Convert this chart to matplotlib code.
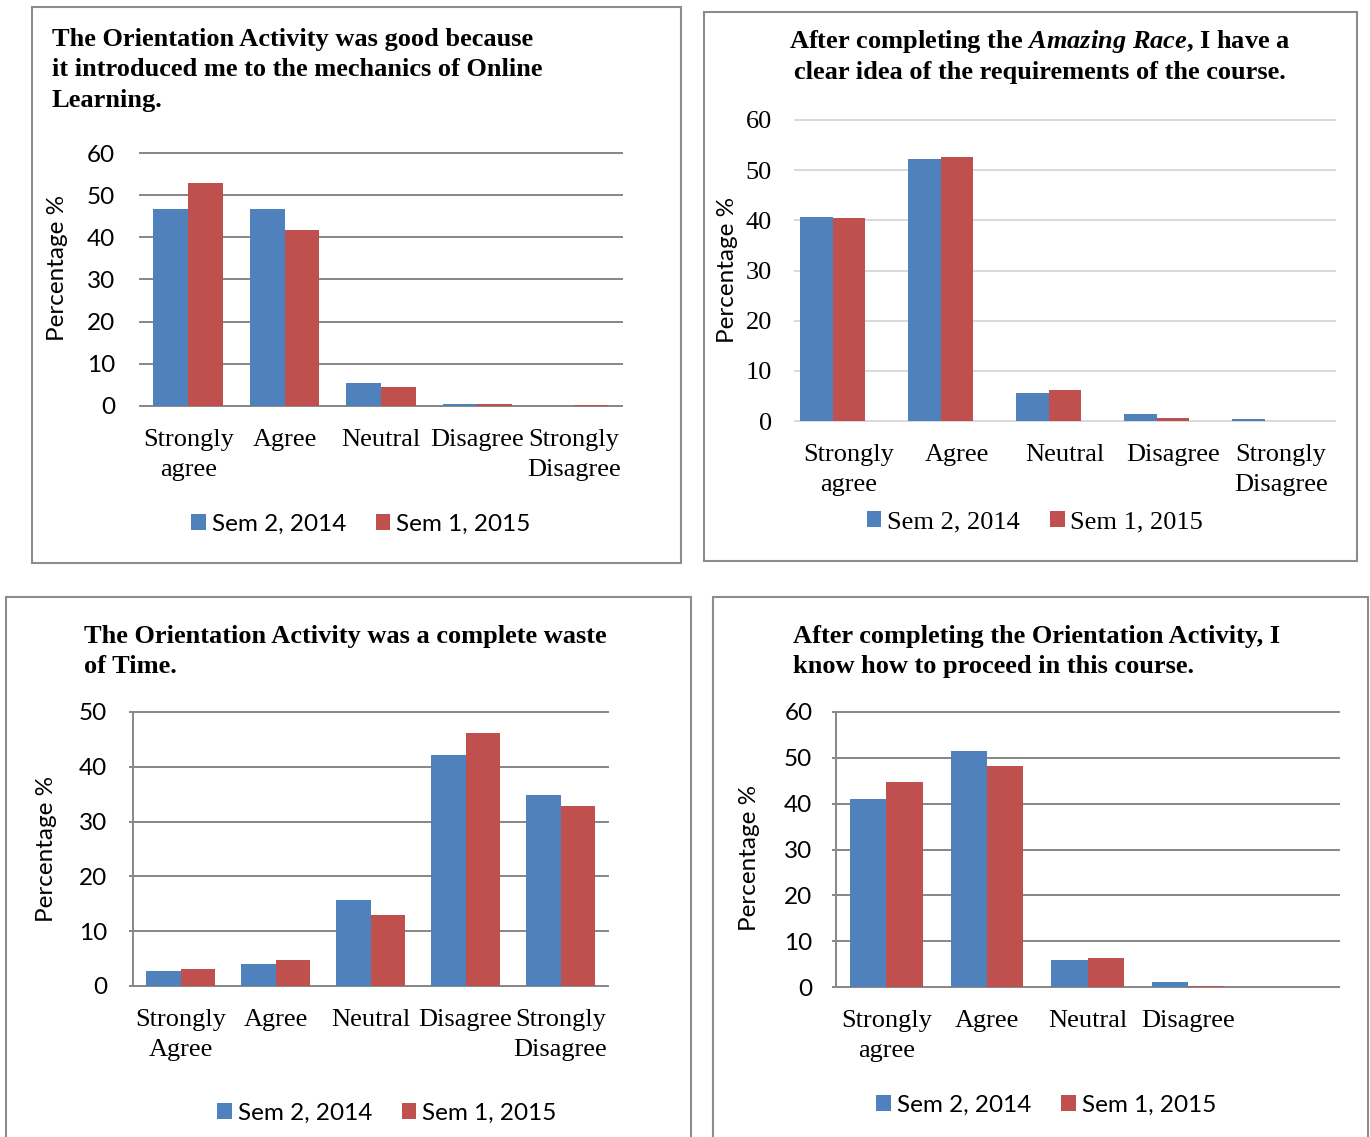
import numpy as np
import matplotlib
matplotlib.use("Agg")
import matplotlib.pyplot as plt
from matplotlib.patches import Rectangle

# ---------------- data ----------------
series_names = ["Sem 2, 2014", "Sem 1, 2015"]

p1_title = ["The Orientation Activity was good because",
            "it introduced me to the mechanics of Online",
            "Learning."]
p1_categories = ["Strongly\nagree", "Agree", "Neutral", "Disagree", "Strongly\nDisagree"]
p1_sem2_2014 = [46.7, 46.7, 5.5, 0.5, 0.0]
p1_sem1_2015 = [52.9, 41.7, 4.5, 0.4, 0.2]

p2_title = [r"After completing the $\mathit{Amazing\ Race}$, I have a",
            "clear idea of the requirements of the course."]
p2_categories = ["Strongly\nagree", "Agree", "Neutral", "Disagree", "Strongly\nDisagree"]
p2_sem2_2014 = [40.6, 52.2, 5.6, 1.3, 0.3]
p2_sem1_2015 = [40.4, 52.7, 6.2, 0.5, 0.0]

p3_title = ["The Orientation Activity was a complete waste",
            "of Time."]
p3_categories = ["Strongly\nAgree", "Agree", "Neutral", "Disagree", "Strongly\nDisagree"]
p3_sem2_2014 = [2.8, 4.0, 15.7, 42.1, 34.9]
p3_sem1_2015 = [3.1, 4.7, 12.9, 46.1, 32.8]

p4_title = ["After completing the Orientation Activity, I",
            "know how to proceed in this course."]
p4_categories = ["Strongly\nagree", "Agree", "Neutral", "Disagree"]
p4_sem2_2014 = [41.0, 51.5, 6.0, 1.0]
p4_sem1_2015 = [44.8, 48.2, 6.3, 0.2]

y_label = "Percentage %"

# ---------------- style ----------------
W, H = 1370, 1137
SERIF = "Liberation Serif"
SANS = "Lato"
BLUE = "#4F81BD"
RED = "#C0504D"
FRAME = "#8C8C8C"

plt.rcParams["mathtext.fontset"] = "custom"
plt.rcParams["mathtext.rm"] = "Liberation Serif:bold"
plt.rcParams["mathtext.bf"] = "Liberation Serif:bold"
plt.rcParams["mathtext.it"] = "Liberation Serif:italic:bold"

fig = plt.figure(figsize=(W / 100, H / 100), dpi=100)
fig.patch.set_facecolor("white")


def fx(x):
    return x / W


def fy(y):
    return 1 - y / H


def frame(x0, y0, x1, y1):
    fig.add_artist(Rectangle((fx(x0), fy(y1)), fx(x1) - fx(x0), fy(y0) - fy(y1),
                             transform=fig.transFigure, fill=False,
                             edgecolor=FRAME, linewidth=1.5))


def title(lines, x, baselines, ha="left"):
    for line, yb in zip(lines, baselines):
        fig.text(fx(x), fy(yb), line, ha=ha, va="baseline",
                 family=SERIF, weight="bold", size=19)


def chart(box, cats, a, b, ymax, width, offsets, grid_color, left_axis,
          ytick_family, ytick_size, ytick_pad, ylabel_xy, legend_xy,
          legend_family, legend_size, ncat=5):
    x0, y0, x1, y1 = box
    ax = fig.add_axes([fx(x0), fy(y1), fx(x1) - fx(x0), fy(y0) - fy(y1)])
    x = np.arange(len(cats))
    ax.bar(x + offsets[0], a, width, color=BLUE, label=series_names[0], linewidth=0)
    ax.bar(x + offsets[1], b, width, color=RED, label=series_names[1], linewidth=0)
    ax.set_xlim(-0.5, ncat - 0.5)
    ax.set_ylim(0, ymax)
    ax.set_yticks(np.arange(0, ymax + 1, 10))
    ax.set_xticks(x)
    ax.set_xticklabels(cats, family=SERIF, size=19, linespacing=1.46)
    for lbl in ax.get_yticklabels():
        lbl.set_family(ytick_family)
        lbl.set_size(ytick_size)
    ax.set_axisbelow(True)
    ax.yaxis.grid(True, color=grid_color, linewidth=1.4)
    for gl in ax.get_ygridlines():
        gl.set_clip_on(False)
    for s in ax.spines.values():
        s.set_visible(False)
    if left_axis:
        ax.spines["left"].set_visible(True)
        ax.spines["left"].set_color(grid_color)
        ax.spines["left"].set_linewidth(1.4)
        ax.tick_params(axis="y", length=3, width=1.4, color=grid_color, pad=ytick_pad - 3)
    else:
        ax.tick_params(axis="y", length=0, pad=ytick_pad)
    ax.tick_params(axis="x", length=0, pad=16.5)
    ax.patch.set_alpha(0)

    fig.text(fx(ylabel_xy[0]), fy(ylabel_xy[1]), y_label, rotation=90,
             ha="center", va="center", family=SANS, size=17.5)

    fs = legend_size * 100 / 72
    hs = 14.5 / fs
    ax.legend(loc="center", bbox_to_anchor=(fx(legend_xy[0]), fy(legend_xy[1])),
              bbox_transform=fig.transFigure, ncol=2, frameon=False,
              prop=dict(family=legend_family, size=legend_size),
              handlelength=hs, handleheight=hs, handletextpad=6 / fs,
              columnspacing=30 / fs, borderpad=0, borderaxespad=0)
    return ax


# ---------------- panel 1 ----------------
frame(32, 7, 681, 563)
title(p1_title, 52, [46, 76, 107])
chart((140, 153, 622, 406), p1_categories, p1_sem2_2014, p1_sem1_2015, 60,
      0.36, (-0.18, 0.18), "#868686", False, SANS, 17.5, 18,
      (58, 268), (361, 524), SANS, 17.5)

# ---------------- panel 2 ----------------
frame(704, 12, 1357, 561)
title(p2_title, 1040, [48, 79], ha="center")
chart((795, 120, 1335, 421), p2_categories, p2_sem2_2014, p2_sem1_2015, 60,
      0.30, (-0.30, 0.0), "#D9D9D9", False, SERIF, 19, 16.5,
      (727, 270), (1035, 522), SERIF, 19)

# ---------------- panel 3 ----------------
frame(6, 597, 691, 1160)
title(p3_title, 84, [643, 673])
chart((133, 712, 608, 986), p3_categories, p3_sem2_2014, p3_sem1_2015, 50,
      0.365, (-0.1825, 0.1825), "#868686", True, SANS, 17.5, 18.5,
      (47, 849), (387, 1113), SANS, 17.5)

# ---------------- panel 4 ----------------
frame(713, 597, 1368, 1160)
title(p4_title, 793, [643, 673])
chart((836, 712, 1339, 987), p4_categories, p4_sem2_2014, p4_sem1_2015, 60,
      0.36, (-0.18, 0.18), "#868686", True, SANS, 17.5, 17,
      (750, 858), (1046, 1105), SANS, 17.5)

fig.savefig("out.png", dpi=100, facecolor="white")
